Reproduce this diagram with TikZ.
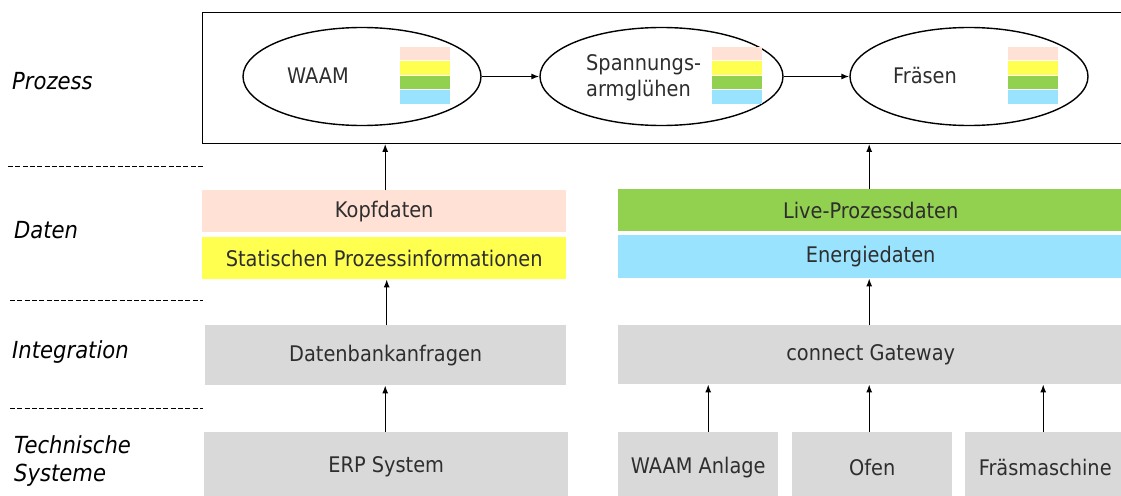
\documentclass[tikz,border=0pt]{standalone}
\usepackage{fontspec}
\setmainfont{DejaVu Sans}[FakeStretch=0.9]
\usetikzlibrary{arrows.meta,shapes.geometric}

\definecolor{kopfc}{HTML}{FFE1D6}
\definecolor{statc}{HTML}{FFFF50}
\definecolor{livec}{HTML}{92D050}
\definecolor{enerc}{HTML}{9AE3FF}
\definecolor{sysc}{HTML}{D9D9D9}
\definecolor{txtc}{HTML}{2E2E2E}

\tikzset{
  boxtext/.style={font=\fontsize{21.5}{26}\selectfont, text=txtc},
  layerbox/.style={boxtext, draw=none, fill=#1, inner sep=0pt, anchor=north west},
  layerlabel/.style={font=\fontsize{23.5}{28}\selectfont\itshape, anchor=west, inner sep=0pt},
  procstep/.style={ellipse, draw, line width=1.4pt, inner sep=0pt, minimum width=238, minimum height=98},
  flow/.style={line width=1.3pt, -{Latex[length=8pt,width=6pt]}},
  sepline/.style={line width=0.9pt, dash pattern=on 5pt off 2.3pt}
}

\begin{document}
\begin{tikzpicture}[x=1pt,y=-1pt]
  \useasboundingbox (0,0) rectangle (1121,495);
  \clip (0,0) rectangle (1121,495);

  % layer names and separators
  \node[layerlabel] (lProz) at (12,81) {Prozess};
  \node[layerlabel] (lDat) at (14,230) {Daten};
  \node[layerlabel] (lInt) at (12,352) {Integration};
  \node[layerlabel] (lTech) at (14,445) {Technische};
  \node[layerlabel] (lSys) at (14,475) {Systeme};
  \draw[sepline] (8,166) -- (204,166);
  \draw[sepline] (10,300) -- (203,300);
  \draw[sepline] (10,408) -- (203,408);

  % process layer
  \node[draw, line width=1.4pt, anchor=north west, inner sep=0pt,
        minimum width=930, minimum height=130.5] (proc) at (202,12) {};
  \node[procstep] (e1) at (362,76.5) {};
  \node[procstep, minimum width=243] (e2) at (661.5,76.5) {};
  \node[procstep] (e3) at (969,76.5) {};
  \node[boxtext, inner sep=0pt] (t1) at (318,76) {WAAM};
  \node[boxtext, inner sep=0pt, anchor=west, align=left] (t2) at (586,78) {Spannungs-\\armglühen};
  \node[boxtext, inner sep=0pt] (t3) at (925,76) {Fräsen};
  \foreach \sx in {400,712,1008}{
    \fill[kopfc] (\sx,47) rectangle ++(49.5,13.5);
    \fill[statc] (\sx,61) rectangle ++(49.5,14);
    \fill[livec] (\sx,76) rectangle ++(49.5,12.5);
    \fill[enerc] (\sx,89.5) rectangle ++(49.5,14);
  }
  \draw[flow] (e1.east) -- (e2.west);
  \draw[flow] (e2.east) -- (e3.west);

  % data layer
  \node[layerbox=kopfc, minimum width=364, minimum height=42] (kopf) at (202,190) {Kopfdaten};
  \node[layerbox=statc, minimum width=364, minimum height=42] (stat) at (202,237) {Statischen Prozessinformationen};
  \node[layerbox=livec, minimum width=505, minimum height=42] (live) at (618,189) {Live-Prozessdaten};
  \node[layerbox=enerc, minimum width=505, minimum height=43] (ener) at (618,235) {Energiedaten};

  % integration layer
  \node[layerbox=sysc, minimum width=361, minimum height=60] (db) at (205,325) {Datenbankanfragen};
  \node[layerbox=sysc, minimum width=505, minimum height=59] (gw) at (618,325) {connect Gateway};

  % technical systems
  \node[layerbox=sysc, minimum width=364, minimum height=70] (erp) at (204,432) {ERP System};
  \node[layerbox=sysc, minimum width=160, minimum height=70] (waam) at (618,432) {WAAM Anlage};
  \node[layerbox=sysc, minimum width=160, minimum height=70] (ofen) at (792,432) {Ofen};
  \node[layerbox=sysc, minimum width=160, minimum height=70] (fraes) at (965,432) {Fräsmaschine};

  % vertical connections
  \draw[flow] ([xshift=1pt]kopf.north) -- ([xshift=1pt]kopf.north |- proc.south);
  \draw[flow] ([xshift=-1.5pt]live.north) -- ([xshift=-1.5pt]live.north |- proc.south);
  \draw[flow] ([xshift=1pt]db.north) -- ([xshift=1pt]db.north |- stat.south);
  \draw[flow] ([xshift=-1.5pt]gw.north) -- ([xshift=-1.5pt]gw.north |- ener.south);
  \draw[flow] ([xshift=-1pt]erp.north) -- ([xshift=-1pt]erp.north |- db.south);
  \draw[flow] ([xshift=10pt]waam.north) -- ([xshift=10pt]waam.north |- gw.south);
  \draw[flow] ([xshift=-3pt]ofen.north) -- ([xshift=-3pt]ofen.north |- gw.south);
  \draw[flow] ([xshift=-2pt]fraes.north) -- ([xshift=-2pt]fraes.north |- gw.south);
\end{tikzpicture}
\end{document}
